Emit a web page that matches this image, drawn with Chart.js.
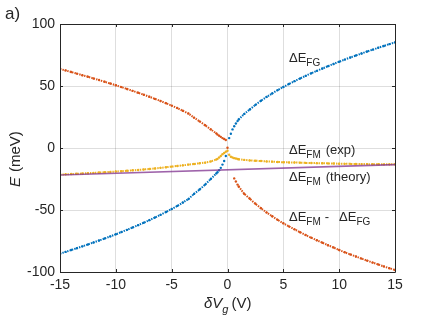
<!DOCTYPE html>
<html>
<head>
<meta charset="utf-8">
<script src="https://cdn.jsdelivr.net/npm/chart.js@4"></script>
<style>
  html, body { margin: 0; padding: 0; background: #fff; }
</style>
</head>
<body>
<canvas id="grafica" width="436" height="327"></canvas>
<script>
// gate voltage sweep (V)
const vg = [-15,-14.5,-14,-13.5,-13,-12.5,-12,-11.5,-11,-10.5,-10,-9.5,-9,-8.5,-8,-7.5,-7,-6.5,-6,-5.5,-5,-4.5,-4,-3.5,-3,-2.5,-2,-1.5,-1,
  -0.9,-0.75,-0.6,-0.45,-0.3,-0.15,0,0.15,0.3,0.45,0.6,0.75,0.9,
  1,1.5,2,2.5,3,3.5,4,4.5,5,5.5,6,6.5,7,7.5,8,8.5,9,9.5,10,10.5,11,11.5,12,12.5,13,13.5,14,14.5,15];

// ΔE_FG (meV)
const eFG = [-85.2,-83.8,-82.3,-80.8,-79.3,-77.8,-76.2,-74.6,-73.0,-71.3,-69.6,-67.8,-66.0,-64.1,-62.2,-60.3,-58.2,-56.1,-53.9,-51.6,-49.2,-46.7,-44.0,-41.2,-37,-33.5,-29.5,-25,-20.5,
  -19.5,-18,-16,-13.4,-10.5,-6.5,null,8,11.5,15,17.5,19.8,21.7,
  23,27.5,31.1,34.8,38.1,41.2,44.0,46.7,49.2,51.6,53.9,56.1,58.2,60.3,62.2,64.1,66.0,67.8,69.6,71.3,73.0,74.6,76.2,77.8,79.3,80.8,82.3,83.8,85.2];

// ΔE_FM measured (meV)
const eFMexp = [-21.5,-21.2,-21.0,-20.8,-20.6,-20.3,-20.1,-19.8,-19.6,-19.3,-19.0,-18.7,-18.4,-18.0,-17.7,-17.3,-16.9,-16.5,-16.0,-15.5,-15.0,-14.5,-14.0,-13.4,-12.9,-12.3,-11.8,-10.8,-9.3,
  -8.8,-7.7,-6.5,-5.1,-4,-3,-2.2,-5.5,-7,-7.7,-8.2,-8.5,-8.9,
  -9.1,-9.6,-10.0,-10.3,-10.5,-10.8,-11.0,-11.3,-11.5,-11.6,-11.7,-11.8,-12.0,-12.1,-12.2,-12.3,-12.4,-12.5,-12.7,-12.8,-12.8,-12.9,-13.0,-13.0,-13.1,-13.1,-13.2,-13.2,-13.2];

// ΔE_FM - ΔE_FG (meV)
const eDiff = [63.7,62.6,61.3,60.0,58.7,57.5,56.1,54.8,53.4,52.0,50.6,49.1,47.6,46.1,44.5,43.0,41.3,39.6,37.9,36.1,34.2,32.2,30.0,27.8,24.5,21.5,18.3,15,11.8,
  10.8,9.9,9,8,7.2,6.5,0.2,null,null,null,-24.5,-27,-29.5,
  -31,-37,-40.9,-45.0,-48.6,-52.0,-55.0,-58.0,-60.7,-63.2,-65.6,-67.9,-70.2,-72.4,-74.4,-76.4,-78.4,-80.3,-82.3,-84.1,-85.8,-87.5,-89.2,-90.8,-92.4,-93.9,-95.5,-97.0,-98.4];

// ΔE_FM theory (meV)
const teoriaX = [-15, 15];
const teoriaY = [-21.8, -13.4];

const xTicks = [-15, -10, -5, 0, 5, 10, 15];
const yTicks = [-100, -50, 0, 50, 100];

const pares = (xs, ys) => xs.map((x, i) => ({ x: x, y: ys[i] }));
const tinta = '#262626';

function serie(datos, color) {
  return {
    data: pares(vg, datos),
    showLine: true,
    spanGaps: false,
    borderColor: color,
    backgroundColor: color,
    borderWidth: 2,
    borderDash: [1.4, 1.1],
    pointRadius: 1.2,
    pointBorderWidth: 0,
    // near 0 V the samples are far apart: show them as separate dots
    segment: {
      borderColor: c => (c.p0.parsed.x >= -1 && c.p1.parsed.x <= 1) ? 'transparent' : undefined
    }
  };
}

function etiqueta(ctx, x, y, partes) {
  partes.forEach(p => {
    ctx.font = p[1];
    ctx.fillText(p[0], x, y + p[2]);
    x += ctx.measureText(p[0]).width + (p[3] || 0);
  });
}

const notas = {
  id: 'notas',
  afterDraw(chart) {
    const { ctx, chartArea: a, scales } = chart;
    ctx.save();
    ctx.strokeStyle = tinta;
    ctx.lineWidth = 1;
    ctx.beginPath();
    ctx.rect(Math.round(a.left) + 0.5, Math.round(a.top) + 0.5,
             Math.round(a.right - a.left), Math.round(a.bottom - a.top));
    ctx.stroke();
    ctx.beginPath();
    xTicks.forEach(v => {
      const px = Math.round(scales.x.getPixelForValue(v)) + 0.5;
      ctx.moveTo(px, a.bottom); ctx.lineTo(px, a.bottom - 3);
      ctx.moveTo(px, a.top); ctx.lineTo(px, a.top + 3);
    });
    yTicks.forEach(v => {
      const py = Math.round(scales.y.getPixelForValue(v)) + 0.5;
      ctx.moveTo(a.left, py); ctx.lineTo(a.left + 3, py);
      ctx.moveTo(a.right, py); ctx.lineTo(a.right - 3, py);
    });
    ctx.stroke();

    ctx.fillStyle = tinta;
    ctx.textBaseline = 'alphabetic';
    ctx.textAlign = 'left';
    const f = '13px "Liberation Sans"';
    const fs = '10px "Liberation Sans"';
    etiqueta(ctx, 289, 62, [['ΔE', f, 0], ['FG', fs, 4]]);
    etiqueta(ctx, 289, 154, [['ΔE', f, 0], ['FM', fs, 4, 5], ['(exp)', f, 0]]);
    etiqueta(ctx, 289, 181, [['ΔE', f, 0], ['FM', fs, 4, 5], ['(theory)', f, 0]]);
    etiqueta(ctx, 289, 221, [['ΔE', f, 0], ['FM', fs, 4, 4], ['-', f, 0, 10], ['ΔE', f, 0], ['FG', fs, 4]]);

    // panel tag
    ctx.font = '17px "Liberation Sans"';
    ctx.fillText('a)', 5, 19);

    // x axis title
    etiqueta(ctx, 204, 308, [['δV', 'italic 15px "Liberation Sans"', 0], ['g', 'italic 11px "Liberation Sans"', 5, 3], ['(V)', '15px "Liberation Sans"', 0]]);

    // y axis title
    ctx.translate(20, 187);
    ctx.rotate(-Math.PI / 2);
    etiqueta(ctx, 0, 0, [['E', 'italic 15px "Liberation Sans"', 0, 5], ['(meV)', '15px "Liberation Sans"', 0]]);
    ctx.restore();
  }
};

new Chart(document.getElementById('grafica').getContext('2d'), {
  type: 'scatter',
  data: {
    datasets: [
      {
        data: pares(teoriaX, teoriaY),
        showLine: true,
        borderColor: 'rgba(126, 47, 142, 0.75)',
        borderWidth: 1.6,
        pointRadius: 0
      },
      serie(eDiff, '#D95319'),
      serie(eFMexp, '#EDB120'),
      serie(eFG, '#0072BD')
    ]
  },
  options: {
    responsive: false,
    animation: false,
    layout: { padding: { top: 24, right: 41, left: 0, bottom: 0 } },
    plugins: { legend: { display: false }, tooltip: { enabled: false } },
    scales: {
      x: {
        type: 'linear',
        min: -15,
        max: 15,
        afterBuildTicks: s => { s.ticks = xTicks.map(v => ({ value: v })); },
        afterFit: s => { s.height = 55; },
        grid: { color: 'rgba(0,0,0,0.13)', drawTicks: false },
        border: { display: false },
        ticks: { padding: 5, color: tinta, font: { family: 'Liberation Sans', size: 14 } }
      },
      y: {
        min: -100,
        max: 100,
        afterBuildTicks: s => { s.ticks = yTicks.map(v => ({ value: v })); },
        afterFit: s => { s.width = 60; },
        grid: { color: 'rgba(0,0,0,0.13)', drawTicks: false },
        border: { display: false },
        ticks: { padding: 5, color: tinta, font: { family: 'Liberation Sans', size: 14 } }
      }
    }
  },
  plugins: [notas]
});
</script>
</body>
</html>
